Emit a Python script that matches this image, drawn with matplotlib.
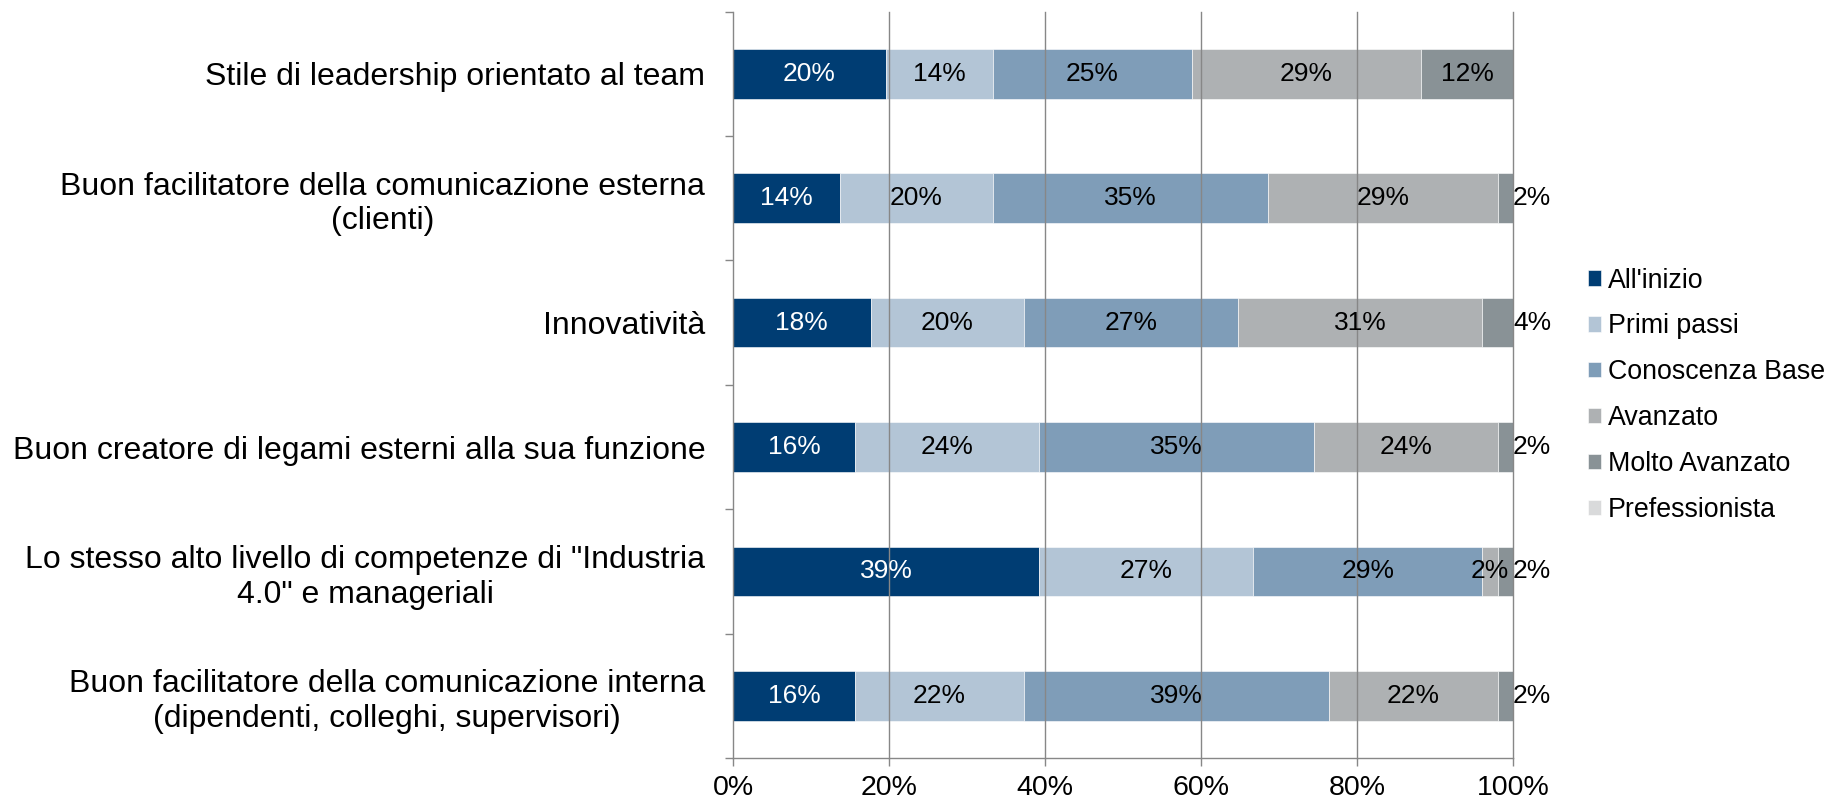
import numpy as np
import matplotlib
matplotlib.use('Agg')
import matplotlib.pyplot as plt

plt.rcParams['font.family'] = ['Liberation Sans', 'DejaVu Sans']

# Categories (top to bottom)
categories = [
    'Stile di leadership orientato al team',
    'Buon facilitatore della comunicazione esterna\n(clienti)',
    'Innovatività',
    'Buon creatore di legami esterni alla sua funzione',
    'Lo stesso alto livello di competenze di "Industria\n4.0" e manageriali',
    'Buon facilitatore della comunicazione interna\n(dipendenti, colleghi, supervisori)',
]

# Series values in percent
all_inizio = [19.61, 13.73, 17.65, 15.69, 39.22, 15.69]
primi_passi = [13.73, 19.61, 19.61, 23.53, 27.45, 21.57]
conoscenza_base = [25.49, 35.29, 27.45, 35.29, 29.41, 39.22]
avanzato = [29.41, 29.41, 31.37, 23.53, 1.96, 21.57]
molto_avanzato = [11.76, 1.96, 3.92, 1.96, 1.96, 1.96]
professionista = [0, 0, 0, 0, 0, 0]

series_names = ["All'inizio", 'Primi passi', 'Conoscenza Base', 'Avanzato',
                'Molto Avanzato', 'Prefessionista']
series = [all_inizio, primi_passi, conoscenza_base, avanzato, molto_avanzato, professionista]
colors = ['#003D73', '#B3C5D6', '#7F9DB8', '#AEB1B3', '#899296', '#D9DADB']
text_colors = ['white', 'black', 'black', 'black', 'black', 'black']

xticks = [0, 20, 40, 60, 80, 100]
xtick_labels = ['0%', '20%', '40%', '60%', '80%', '100%']

fig = plt.figure(figsize=(18.27, 8.0), dpi=100)
ax = fig.add_axes([0.4012, 0.0525, 0.4269, 0.933])

y = np.arange(len(categories))
left = np.zeros(len(categories))
containers = []
for k, vals in enumerate(series):
    vals = np.array(vals, dtype=float)
    bc = ax.barh(y, vals, left=left, height=0.4, color=colors[k],
                 edgecolor='white', linewidth=0.4, label=series_names[k], zorder=1)
    containers.append(bc)
    for i, v in enumerate(vals):
        if v <= 0:
            continue
        lab = f'{round(v)}%'
        if k == 4 and v < 5:
            # too small: label goes just right of the bar end
            ax.text(left[i] + v, y[i], lab, ha='left', va='center',
                    fontsize=19, color='black', zorder=4)
        else:
            ax.text(left[i] + v / 2, y[i], lab, ha='center', va='center',
                    fontsize=19, color=text_colors[k], zorder=4)
    left += vals

ax.set_xlim(0, 100)
ax.set_ylim(len(categories) - 0.5, -0.5)

# gridlines on top of bars
for xv in xticks[1:]:
    ax.axvline(xv, color='#878787', linewidth=1.0, zorder=3, clip_on=False)

ax.set_xticks(xticks)
ax.set_xticklabels(xtick_labels, fontsize=20.5)
ax.tick_params(axis='x', direction='out', length=6, width=1.0, color='#878787', pad=6)

ax.set_yticks(y)
ax.set_yticklabels(categories, fontsize=23, multialignment='center')
ax.tick_params(axis='y', which='major', length=0, pad=20)
ax.set_yticks(np.arange(-0.5, len(categories)), minor=True)
ax.tick_params(axis='y', which='minor', direction='out', length=6, width=1.0, color='#878787')

for s in ['top', 'right']:
    ax.spines[s].set_visible(False)
for s in ['left', 'bottom']:
    ax.spines[s].set_color('#878787')
    ax.spines[s].set_linewidth(1.0)

fig.legend(handles=containers, labels=series_names, loc='center left',
           bbox_to_anchor=(0.869, 0.506), frameon=False, fontsize=19.3,
           handlelength=0.5, handleheight=0.5, handletextpad=0.25,
           labelspacing=0.74, borderpad=0, borderaxespad=0)

fig.savefig('out.png', dpi=100)
